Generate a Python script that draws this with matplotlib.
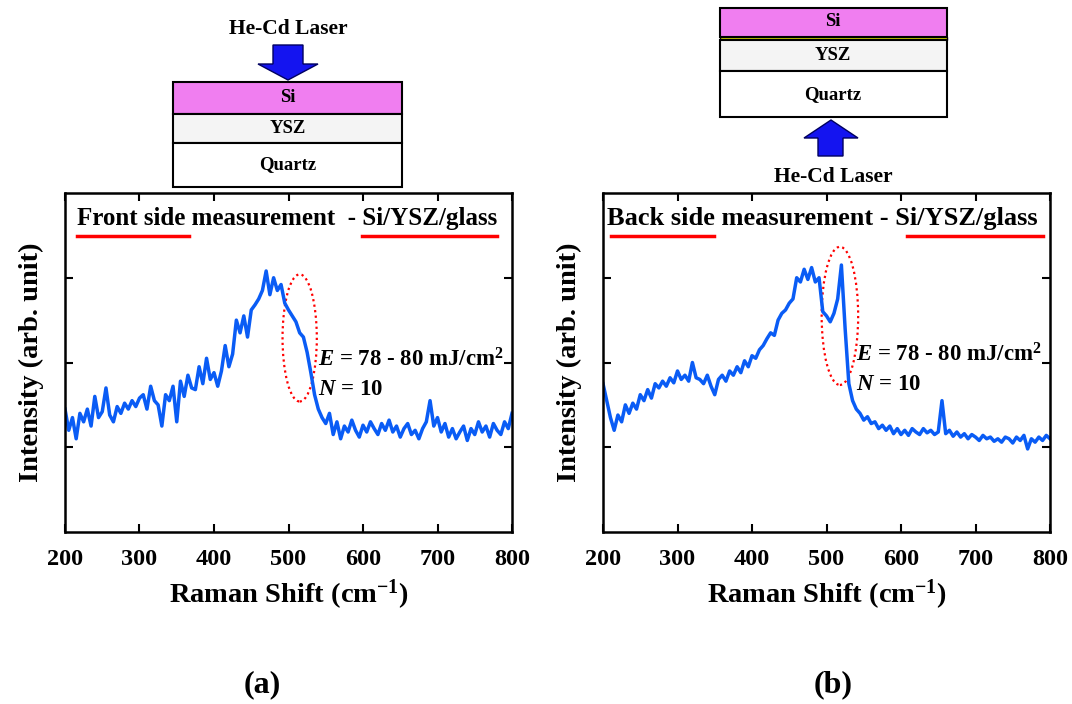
import numpy as np
import matplotlib
matplotlib.use('Agg')
import matplotlib.pyplot as plt
from matplotlib.patches import Ellipse, Rectangle, Polygon

plt.rcParams['font.family'] = 'Liberation Serif'
plt.rcParams['font.weight'] = 'bold'
plt.rcParams['axes.labelweight'] = 'bold'
plt.rcParams['mathtext.fontset'] = 'custom'
plt.rcParams['mathtext.rm'] = 'Liberation Serif:bold'
plt.rcParams['mathtext.bf'] = 'Liberation Serif:bold'
plt.rcParams['mathtext.it'] = 'Liberation Serif:bold:italic'

# Raman shift grid (cm-1), read every 5 cm-1
shift = np.arange(200, 801, 5)

# (a) front side measurement, intensity in arb. unit
front = [1.45, 1.20, 1.35, 1.10, 1.40, 1.30, 1.45, 1.25, 1.60, 1.35,
         1.42, 1.70, 1.38, 1.30, 1.48, 1.40, 1.52, 1.45, 1.55, 1.48,
         1.58, 1.62, 1.45, 1.72, 1.55, 1.50, 1.25, 1.62, 1.55, 1.72,
         1.30, 1.78, 1.60, 1.85, 1.70, 1.68, 1.95, 1.75, 2.05, 1.80,
         1.88, 1.72, 1.90, 2.20, 1.95, 2.10, 2.50, 2.35, 2.55, 2.30,
         2.62, 2.68, 2.75, 2.85, 3.08, 2.80, 3.00, 2.85, 2.92, 2.70,
         2.62, 2.55, 2.48, 2.35, 2.30, 2.12, 1.88, 1.62, 1.45, 1.35,
         1.28, 1.40, 1.15, 1.30, 1.10, 1.25, 1.18, 1.32, 1.20, 1.12,
         1.26, 1.18, 1.30, 1.22, 1.15, 1.28, 1.20, 1.32, 1.18, 1.25,
         1.12, 1.22, 1.28, 1.15, 1.20, 1.10, 1.22, 1.30, 1.55, 1.25,
         1.35, 1.18, 1.28, 1.12, 1.22, 1.10, 1.18, 1.25, 1.08, 1.22,
         1.15, 1.30, 1.18, 1.25, 1.12, 1.28, 1.20, 1.15, 1.30, 1.22,
         1.40]

# (b) back side measurement
back = [1.75, 1.55, 1.35, 1.20, 1.38, 1.30, 1.50, 1.40, 1.52, 1.45,
        1.62, 1.55, 1.68, 1.58, 1.75, 1.70, 1.78, 1.72, 1.82, 1.76,
        1.90, 1.80, 1.85, 1.78, 2.00, 1.82, 1.80, 1.75, 1.85, 1.72,
        1.62, 1.80, 1.85, 1.78, 1.90, 1.85, 1.95, 1.88, 2.02, 1.95,
        2.08, 2.05, 2.15, 2.20, 2.28, 2.35, 2.32, 2.50, 2.58, 2.62,
        2.70, 2.75, 3.00, 2.95, 3.10, 2.98, 3.12, 2.95, 3.00, 2.60,
        2.55, 2.48, 2.58, 2.75, 3.15, 2.40, 1.75, 1.55, 1.45, 1.40,
        1.32, 1.36, 1.28, 1.30, 1.22, 1.26, 1.20, 1.25, 1.16, 1.22,
        1.15, 1.20, 1.14, 1.22, 1.18, 1.15, 1.22, 1.17, 1.20, 1.15,
        1.18, 1.55, 1.16, 1.20, 1.13, 1.18, 1.12, 1.16, 1.10, 1.15,
        1.12, 1.08, 1.14, 1.10, 1.12, 1.07, 1.10, 1.06, 1.12, 1.10,
        1.05, 1.12, 1.08, 1.14, 0.98, 1.10, 1.06, 1.12, 1.08, 1.14,
        1.10]

xticks = [200, 300, 400, 500, 600, 700, 800]
yticks = [1, 2, 3]

line_col = '#0a5cf5'
W, H = 1072, 704

fig = plt.figure(figsize=(W / 100, H / 100), dpi=100)


def make_axes(left, y, ell, txt):
    ax = fig.add_axes([left / W, (H - 532) / H, 447 / W, 339 / H])
    ax.plot(shift, y, color=line_col, linewidth=2.5)
    ax.set_xlim(200, 800)
    ax.set_ylim(0, 4)
    ax.set_xticks(xticks)
    ax.set_yticks(yticks)
    ax.set_yticklabels([])
    ax.tick_params(direction='in', length=6, width=1.5, labelsize=17.5,
                   top=True, right=True, pad=12)
    for s in ax.spines.values():
        s.set_linewidth(1.8)
    ax.set_xlabel('Raman Shift (cm$^{-1}$)', fontsize=20.5, labelpad=6)
    ax.set_ylabel('Intensity (arb. unit)', fontsize=20.5, labelpad=3)
    ax.add_patch(Ellipse(ell[0], ell[1], ell[2], fill=False, edgecolor='red',
                         linestyle=(0, (1, 1.5)), linewidth=1.6))
    ax.text(540, txt[0], '$\\it{E}$ = 78 - 80 mJ/cm$^{2}$',
            fontsize=16.5, va='center', ha='left', clip_on=False)
    ax.text(540, txt[1], '$\\it{N}$ = 10', fontsize=16.5,
            va='center', ha='left', clip_on=False)
    return ax


ax1 = make_axes(65, front, ((515, 2.29), 46, 1.50), (2.03, 1.68))
ax2 = make_axes(603, back, ((518, 2.55), 49, 1.63), (2.09, 1.74))

# overlay in pixel coordinates for sketches, headers and panel letters
ov = fig.add_axes([0, 0, 1, 1])
ov.set_xlim(0, W)
ov.set_ylim(H, 0)
ov.axis('off')

# headers with red underlines
ov.text(77, 219, 'Front side measurement  - Si/YSZ/glass', fontsize=18,
        ha='left', va='center')
ov.plot([77, 189], [236, 236], color='red', lw=2.5)
ov.plot([362, 497], [236, 236], color='red', lw=2.5)
ov.text(607, 218, 'Back side measurement - Si/YSZ/glass', fontsize=19,
        ha='left', va='center')
ov.plot([611, 714], [236, 236], color='red', lw=2.5)
ov.plot([907, 1043], [236, 236], color='red', lw=2.5)

# layer sketch (a)
ov.add_patch(Rectangle((173, 82), 229, 32, facecolor='#f07ef0', edgecolor='k', lw=1.5))
ov.add_patch(Rectangle((173, 114), 229, 29, facecolor='#f4f4f4', edgecolor='k', lw=1.5))
ov.add_patch(Rectangle((173, 143), 229, 44, facecolor='white', edgecolor='k', lw=1.5))
ov.text(288, 98, 'Si', fontsize=13.5, ha='center', va='center')
ov.text(288, 128.5, 'YSZ', fontsize=13.5, ha='center', va='center')
ov.text(288, 165, 'Quartz', fontsize=13.5, ha='center', va='center')
ov.add_patch(Polygon([(273, 45), (303, 45), (303, 64), (318, 64), (288, 80),
                      (258, 64), (273, 64)], closed=True, facecolor='#1414f0',
                     edgecolor='#000060', lw=1))
ov.text(288, 29, 'He-Cd Laser', fontsize=15.5, ha='center', va='center')

# layer sketch (b)
ov.add_patch(Rectangle((720, 8), 227, 29, facecolor='#f07ef0', edgecolor='k', lw=1.5))
ov.add_patch(Rectangle((720, 37), 227, 3, facecolor='#e6e600', edgecolor='k', lw=1))
ov.add_patch(Rectangle((720, 40), 227, 31, facecolor='#f4f4f4', edgecolor='k', lw=1.5))
ov.add_patch(Rectangle((720, 71), 227, 46, facecolor='white', edgecolor='k', lw=1.5))
ov.text(833, 22, 'Si', fontsize=13.5, ha='center', va='center')
ov.text(833, 56, 'YSZ', fontsize=13.5, ha='center', va='center')
ov.text(833, 95, 'Quartz', fontsize=13.5, ha='center', va='center')
ov.add_patch(Polygon([(818, 156), (843, 156), (843, 138), (858, 138), (831, 120),
                      (804, 138), (818, 138)], closed=True, facecolor='#1414f0',
                     edgecolor='#000060', lw=1))
ov.text(833, 177, 'He-Cd Laser', fontsize=15.5, ha='center', va='center')

# panel letters
ov.text(262, 685, '(a)', fontsize=23, ha='center', va='center')
ov.text(833, 685, '(b)', fontsize=23, ha='center', va='center')

fig.savefig('out.png', dpi=100)
